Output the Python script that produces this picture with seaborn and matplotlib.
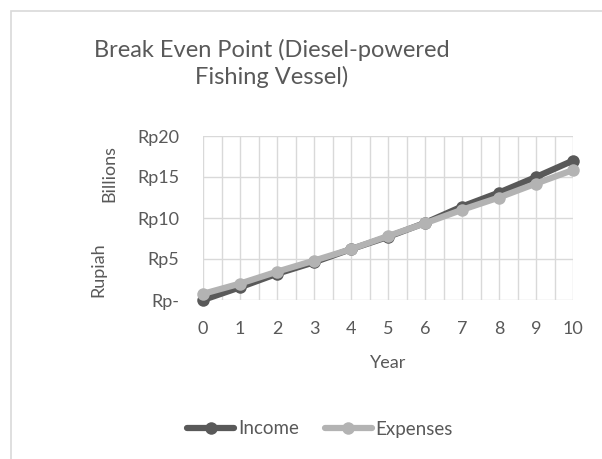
import pandas as pd
import matplotlib.pyplot as plt
import seaborn as sns
from matplotlib.lines import Line2D
from matplotlib.patches import Rectangle

# ================= DATA =================
years = list(range(0, 11))
income = [0.0, 1.55, 3.2, 4.6, 6.2, 7.7, 9.4, 11.4, 13.1, 15.0, 17.0]
expenses = [0.75, 2.0, 3.45, 4.8, 6.2, 7.8, 9.35, 11.0, 12.5, 14.2, 15.85]
series_names = ["Income", "Expenses"]
ytick_vals = [0, 5, 10, 15, 20]
ytick_labels = ["Rp-", "Rp5", "Rp10", "Rp15", "Rp20"]

df = pd.DataFrame({
    "Year": years * 2,
    "Value": income + expenses,
    "Series": ["Income"] * len(years) + ["Expenses"] * len(years),
})

# ================= STYLE =================
sns.set_theme(style="white")
plt.rcParams["font.family"] = ["Lato", "DejaVu Sans"]
text_col = "#595959"
grid_col = "#d9d9d9"
colors = {"Income": "#595959", "Expenses": "#b3b3b3"}

fig = plt.figure(figsize=(6.02, 4.59), dpi=100)
ax = fig.add_axes([203 / 602, 1 - 300 / 459, 370 / 602, 164 / 459])

# chart border
fig.patches.append(Rectangle((11 / 602, -0.05), 1.0, 1 - 11 / 459 + 0.05,
                             transform=fig.transFigure, fill=False,
                             edgecolor="#d9d9d9", linewidth=1.2))

sns.lineplot(data=df, x="Year", y="Value", hue="Series", hue_order=series_names,
             palette=colors, marker="o", markersize=9, markeredgewidth=0,
             linewidth=4.5, legend=False, ax=ax, clip_on=False)

ax.set_xlim(0, 10)
ax.set_ylim(0, 20)
ax.set_xticks([x / 2 for x in range(0, 21)])
ax.set_xticklabels([str(int(x / 2)) if x % 2 == 0 else "" for x in range(0, 21)])
ax.set_yticks(ytick_vals)
ax.set_yticklabels(ytick_labels)
ax.grid(True, color=grid_col, linewidth=1)
for s in ax.spines.values():
    s.set_visible(False)
ax.tick_params(axis="x", length=0, labelsize=13, colors=text_col, pad=15)
ax.tick_params(axis="y", length=0, labelsize=13, colors=text_col, pad=17)
ax.set_xlabel("Year", fontsize=13, color=text_col, labelpad=13)
ax.set_ylabel("")

fig.text(109 / 602, 1 - 173 / 459, "Billions", rotation=90, ha="center",
         va="center", fontsize=13, color=text_col)
fig.text(98 / 602, 1 - 270 / 459, "Rupiah", rotation=90, ha="center",
         va="center", fontsize=13, color=text_col)

fig.text(272 / 602, 1 - 50 / 459, "Break Even Point (Diesel-powered",
         ha="center", va="center", fontsize=17, color=text_col)
fig.text(272 / 602, 1 - 77 / 459, "Fishing Vessel)",
         ha="center", va="center", fontsize=17, color=text_col)

handles = [Line2D([0], [0], color=colors[n], linewidth=4.5, marker="o",
                  markersize=9, markeredgewidth=0) for n in series_names]
fig.legend(handles, series_names, loc="center", bbox_to_anchor=(320 / 602, 1 - 429 / 459),
           ncol=2, frameon=False, fontsize=13.5, labelcolor=text_col,
           handlelength=2.5, handletextpad=0.2, columnspacing=1.4)

plt.savefig("out.png", dpi=100)
plt.close()
